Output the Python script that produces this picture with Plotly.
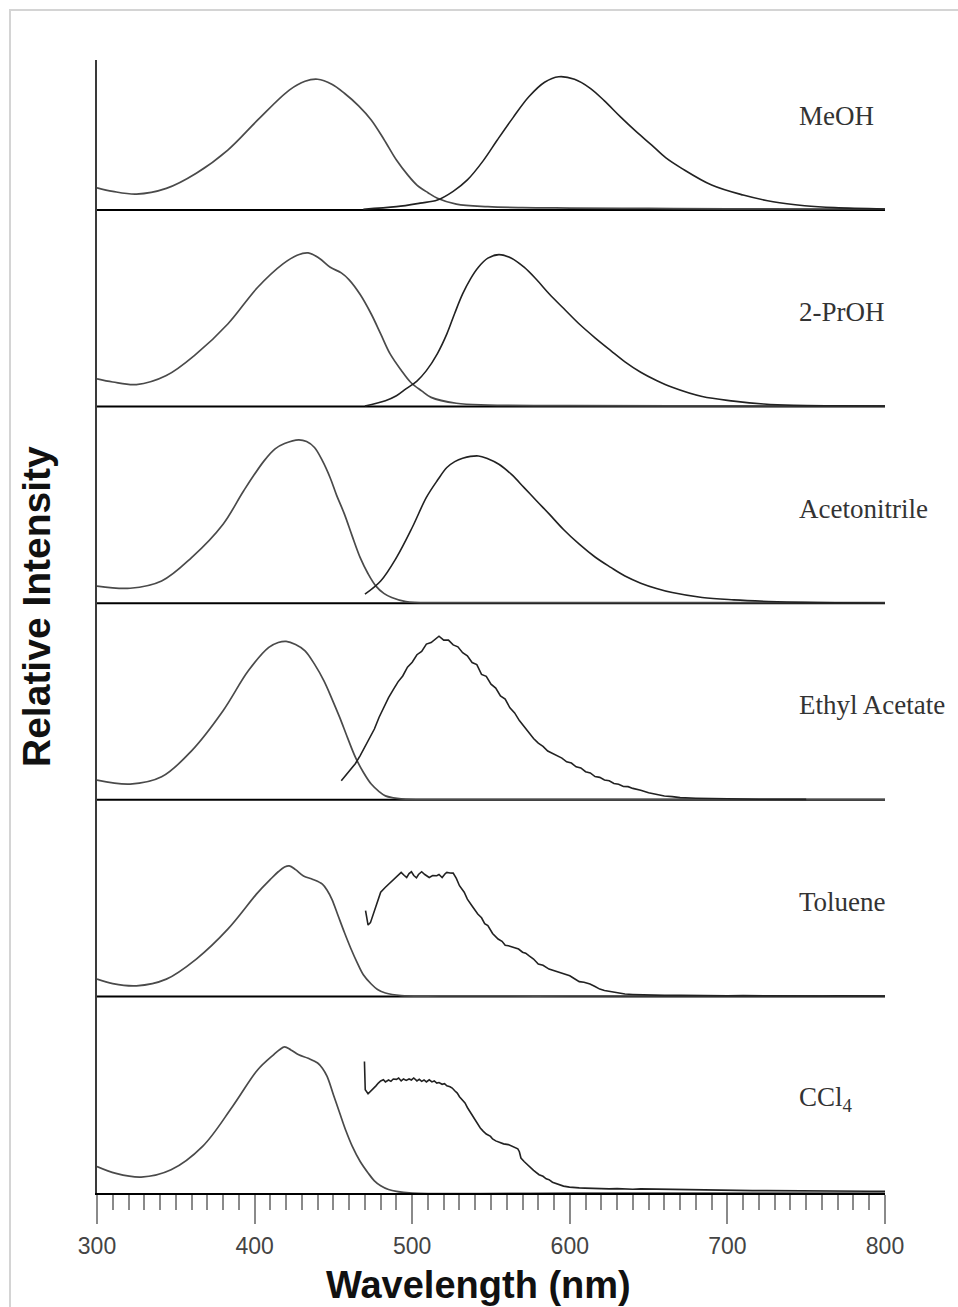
import plotly.graph_objects as go

# ---------------- data ----------------
SOLVENTS = ["MeOH", "2-PrOH", "Acetonitrile", "Ethyl Acetate", "Toluene", "CCl<sub>4</sub>"]
OFFSETS = [5, 4, 3, 2, 1, 0]          # vertical stacking offset of each panel

# MeOH
meoh_abs_x = [300, 310, 325, 344, 363, 383, 402, 422, 432, 440, 449, 457, 466, 474, 482, 490, 497, 503, 510, 516, 528, 548, 570, 600, 650, 700, 800]
meoh_abs_y = [0.113, 0.095, 0.081, 0.11, 0.187, 0.305, 0.458, 0.61, 0.655, 0.665, 0.64, 0.594, 0.53, 0.458, 0.36, 0.254, 0.18, 0.127, 0.088, 0.06, 0.03, 0.017, 0.012, 0.01, 0.008, 0.006, 0.005]
meoh_em_x = [469, 490, 505, 516, 526, 535, 545, 554, 564, 574, 584, 593, 603, 613, 622, 632, 642, 652, 661, 671, 690, 710, 729, 749, 768, 800]
meoh_em_y = [0.004, 0.017, 0.035, 0.051, 0.095, 0.153, 0.25, 0.356, 0.47, 0.576, 0.65, 0.678, 0.665, 0.619, 0.555, 0.475, 0.4, 0.33, 0.265, 0.212, 0.127, 0.076, 0.042, 0.022, 0.012, 0.005]

# 2-PrOH
proh_abs_x = [300, 310, 325, 344, 363, 383, 402, 418, 427, 434, 441, 448, 455, 460, 467, 474, 480, 486, 493, 499, 506, 512, 528, 548, 600, 700, 800]
proh_abs_y = [0.141, 0.125, 0.112, 0.158, 0.268, 0.42, 0.607, 0.726, 0.77, 0.782, 0.755, 0.709, 0.68, 0.645, 0.57, 0.471, 0.37, 0.268, 0.185, 0.124, 0.08, 0.047, 0.017, 0.008, 0.005, 0.004, 0.004]
proh_em_x = [470, 483, 490, 496, 503, 509, 516, 522, 527, 532, 537, 542, 548, 555, 563, 571, 579, 587, 596, 606, 616, 626, 635, 645, 655, 665, 684, 704, 723, 742, 770, 800]
proh_em_y = [0.003, 0.03, 0.055, 0.09, 0.13, 0.183, 0.27, 0.37, 0.475, 0.573, 0.65, 0.709, 0.755, 0.773, 0.755, 0.709, 0.645, 0.573, 0.5, 0.42, 0.35, 0.285, 0.228, 0.175, 0.133, 0.098, 0.051, 0.028, 0.013, 0.006, 0.004, 0.003]

# Acetonitrile
acn_abs_x = [300, 321, 341, 360, 380, 393, 406, 413, 419, 428, 433, 438, 443, 448, 452, 457, 462, 467, 472, 477, 482, 487, 496, 520, 600, 700, 800]
acn_abs_y = [0.087, 0.076, 0.113, 0.232, 0.402, 0.571, 0.724, 0.785, 0.812, 0.831, 0.822, 0.792, 0.725, 0.637, 0.55, 0.453, 0.34, 0.232, 0.15, 0.087, 0.05, 0.029, 0.008, 0.003, 0.003, 0.003, 0.003]
acn_em_x = [470, 480, 490, 500, 509, 516, 522, 527, 532, 542, 548, 555, 563, 571, 579, 587, 596, 606, 616, 626, 635, 645, 655, 665, 684, 704, 726, 749, 800]
acn_em_y = [0.046, 0.113, 0.232, 0.385, 0.538, 0.625, 0.69, 0.72, 0.737, 0.749, 0.735, 0.707, 0.655, 0.588, 0.52, 0.453, 0.375, 0.3, 0.235, 0.182, 0.138, 0.102, 0.075, 0.054, 0.029, 0.017, 0.009, 0.004, 0.0]

# Ethyl Acetate
ea_abs_x = [300, 321, 341, 360, 380, 396, 409, 415, 420, 426, 432, 438, 444, 449, 454, 459, 464, 469, 474, 479, 483, 488, 493, 520, 600, 700, 800]
ea_abs_y = [0.1, 0.08, 0.117, 0.249, 0.453, 0.656, 0.775, 0.8, 0.806, 0.79, 0.758, 0.69, 0.605, 0.515, 0.419, 0.315, 0.216, 0.14, 0.08, 0.042, 0.02, 0.01, 0.005, 0.002, 0.002, 0.002, 0.002]
ea_em_x = [455, 458, 461, 464, 467, 470, 473, 476, 479, 482, 485, 488, 491, 494, 497, 500, 503, 506, 509, 512,
           515, 517, 520, 523, 526, 529, 532, 535, 538, 541, 544, 547, 550, 553, 556, 559, 562, 565, 568, 571,
           574, 577, 580, 583, 586, 589, 592, 595, 598, 601, 604, 607, 610, 613, 616, 619, 622, 625, 628, 631,
           634, 637, 640, 645, 650, 655, 660, 665, 670, 680, 690, 700, 720, 750]
ea_em_y = [0.097, 0.125, 0.155, 0.185, 0.225, 0.27, 0.31, 0.36, 0.42, 0.47, 0.52, 0.56, 0.6, 0.63, 0.675, 0.7, 0.738, 0.755, 0.792, 0.8,
           0.822, 0.832, 0.812, 0.812, 0.788, 0.778, 0.748, 0.732, 0.698, 0.688, 0.638, 0.628, 0.588, 0.568, 0.528, 0.512, 0.468, 0.442, 0.403, 0.372,
           0.343, 0.312, 0.288, 0.272, 0.248, 0.237, 0.223, 0.212, 0.193, 0.187, 0.168, 0.162, 0.143, 0.137, 0.118, 0.114, 0.101, 0.097, 0.083, 0.079,
           0.068, 0.067, 0.058, 0.049, 0.036, 0.029, 0.019, 0.016, 0.011, 0.008, 0.006, 0.005, 0.003, 0.002]

# Toluene
tol_abs_x = [300, 310, 325, 344, 363, 383, 402, 410, 415, 419, 422, 426, 431, 437, 443, 446, 449, 453, 457, 461, 465, 469, 474, 478, 483, 493, 520, 600, 700, 800]
tol_abs_y = [0.088, 0.065, 0.054, 0.088, 0.19, 0.342, 0.528, 0.595, 0.634, 0.658, 0.664, 0.645, 0.613, 0.595, 0.571, 0.54, 0.495, 0.41, 0.325, 0.245, 0.173, 0.11, 0.063, 0.035, 0.017, 0.004, 0.002, 0.002, 0.002, 0.002]
tol_em_x = [470.4, 471, 472, 473.5, 475, 477, 480, 483, 486.5, 489, 491, 493, 495, 496.5, 498, 499.5, 501, 502.7, 504, 506,
            508, 510.8, 513, 515.6, 517, 519, 521, 522, 524, 526, 528, 530, 533, 535, 538, 541.6, 544, 546, 548, 551,
            554.5, 557, 559, 561, 564, 567.5, 570, 572, 574, 577, 580, 583, 586.8, 590, 593, 596, 600, 603, 606, 609,
            612.8, 616, 619, 622, 625.7, 630, 635, 640, 645, 650, 660, 670, 680, 690, 700, 710, 720, 730, 740, 750,
            760, 770, 780, 790, 800]
tol_em_y = [0.436, 0.4, 0.363, 0.375, 0.41, 0.46, 0.53, 0.555, 0.58, 0.6, 0.615, 0.631, 0.615, 0.605, 0.625, 0.634, 0.615, 0.603, 0.62, 0.634,
            0.62, 0.605, 0.615, 0.614, 0.62, 0.605, 0.625, 0.631, 0.628, 0.627, 0.6, 0.563, 0.53, 0.495, 0.46, 0.419, 0.4, 0.37, 0.36, 0.32,
            0.292, 0.28, 0.26, 0.258, 0.25, 0.241, 0.225, 0.22, 0.207, 0.19, 0.165, 0.158, 0.139, 0.13, 0.122, 0.115, 0.105, 0.09, 0.075, 0.072,
            0.063, 0.05, 0.037, 0.03, 0.024, 0.018, 0.012, 0.01, 0.008, 0.007, 0.005, 0.006, 0.004, 0.005, 0.003, 0.004, 0.003, 0.004, 0.002, 0.003,
            0.002, 0.003, 0.002, 0.003, 0.002]

# CCl4
ccl_abs_x = [300, 312, 328, 347, 367, 386, 402, 412, 416, 419, 423, 428, 434, 440, 443, 446, 450, 454, 458, 462, 467, 472, 476, 480, 485, 490, 500, 600, 700, 800]
ccl_abs_y = [0.135, 0.1, 0.081, 0.118, 0.237, 0.44, 0.627, 0.703, 0.73, 0.743, 0.728, 0.703, 0.685, 0.661, 0.635, 0.593, 0.5, 0.407, 0.315, 0.237, 0.16, 0.102, 0.062, 0.037, 0.018, 0.008, 0.0, 0.0, 0.0, 0.0]
ccl_em_x = [469.7, 470.2, 472, 474, 475.5, 477, 478.5, 480, 481.7, 483, 485, 486.5, 488, 490, 491.4, 493, 494.5, 496.2, 498, 499.5,
            501, 503, 504.5, 506, 507.5, 509, 510.8, 512.5, 514, 515.6, 517, 519, 520.5, 522, 524, 525.4, 527, 528.6, 530, 532,
            533.5, 535, 537, 538.4, 540, 541.5, 543.2, 545, 547, 549.7, 551, 553, 556.2, 558, 561, 563, 565.9, 567, 568, 569,
            571, 574, 577, 580.5, 583, 585, 586.8, 589, 591, 593.3, 596, 599.8, 603, 606, 609.5, 614, 619, 625, 630, 635.4,
            640, 645, 651.6, 660, 670, 684, 695, 705, 716, 725, 735, 749, 760, 770, 780, 790, 800]
ccl_em_y = [0.669, 0.525, 0.505, 0.52, 0.53, 0.545, 0.559, 0.57, 0.576, 0.565, 0.575, 0.568, 0.58, 0.578, 0.585, 0.57, 0.58, 0.573, 0.58, 0.575,
            0.585, 0.57, 0.578, 0.568, 0.575, 0.565, 0.576, 0.565, 0.57, 0.559, 0.562, 0.553, 0.556, 0.545, 0.54, 0.534, 0.52, 0.508, 0.49, 0.47,
            0.458, 0.435, 0.41, 0.39, 0.37, 0.35, 0.331, 0.315, 0.3, 0.288, 0.275, 0.265, 0.254, 0.25, 0.246, 0.24, 0.229, 0.225, 0.21, 0.178,
            0.16, 0.136, 0.115, 0.093, 0.085, 0.072, 0.068, 0.055, 0.05, 0.042, 0.035, 0.03, 0.027, 0.026, 0.025, 0.023, 0.022, 0.021, 0.022, 0.02,
            0.019, 0.021, 0.02, 0.018, 0.016, 0.014, 0.013, 0.014, 0.012, 0.012, 0.011, 0.01, 0.011, 0.009, 0.01, 0.009, 0.009]

ABS_X = [meoh_abs_x, proh_abs_x, acn_abs_x, ea_abs_x, tol_abs_x, ccl_abs_x]
ABS_Y = [meoh_abs_y, proh_abs_y, acn_abs_y, ea_abs_y, tol_abs_y, ccl_abs_y]
EM_X = [meoh_em_x, proh_em_x, acn_em_x, ea_em_x, tol_em_x, ccl_em_x]
EM_Y = [meoh_em_y, proh_em_y, acn_em_y, ea_em_y, tol_em_y, ccl_em_y]
EM_SMOOTH = [True, True, True, False, False, False]

X_TICKS = [300, 400, 500, 600, 700, 800]
X_TITLE = "Wavelength (nm)"
Y_TITLE = "Relative Intensity"

# ---------------- figure ----------------
W, H = 958, 1307
ML, MR, MT, MB = 97, 73, 60, 114
PW, PH = W - ML - MR, H - MT - MB

fig = go.Figure()
for name, off, ax, ay, ex, ey, sm in zip(SOLVENTS, OFFSETS, ABS_X, ABS_Y, EM_X, EM_Y, EM_SMOOTH):
    fig.add_trace(go.Scatter(x=ax, y=[v + off for v in ay], mode="lines",
                             line=dict(color="#4a4a4a", width=1.7, shape="spline", smoothing=1.0),
                             showlegend=False, name=name + " abs"))
    fig.add_trace(go.Scatter(x=ex, y=[v + off for v in ey], mode="lines",
                             line=dict(color="#222222", width=1.6, shape="spline" if sm else "linear",
                                       smoothing=1.0),
                             showlegend=False, name=name + " em"))
    if off > 0:
        fig.add_shape(type="line", xref="x", yref="y", x0=X_TICKS[0], x1=X_TICKS[-1], y0=off, y1=off,
                      line=dict(color="black", width=2), layer="below")
    fig.add_annotation(x=744, y=off + 0.48, xref="x", yref="y", text=name, showarrow=False,
                       xanchor="left", yanchor="middle",
                       font=dict(family="Liberation Serif", size=27, color="#333333"))


def px_x(p):
    return (p - ML) / PW


def px_y(p):
    return (H - MB - p) / PH


# outer light frame
fig.add_shape(type="rect", xref="paper", yref="paper", x0=px_x(10), x1=px_x(990), y0=px_y(1340), y1=px_y(10),
              line=dict(color="#d4d4d4", width=2), fillcolor="rgba(0,0,0,0)", layer="below")

fig.add_annotation(x=px_x(478), y=px_y(1285), xref="paper", yref="paper", text=X_TITLE, showarrow=False,
                   xanchor="center", yanchor="middle",
                   font=dict(family="Liberation Sans", size=38, color="#111111", weight="bold"))
fig.add_annotation(x=px_x(36), y=px_y(607), xref="paper", yref="paper", text=Y_TITLE, showarrow=False,
                   textangle=-90, xanchor="center", yanchor="middle",
                   font=dict(family="Liberation Sans", size=39, color="#111111", weight="bold"))

fig.update_xaxes(range=[300, 800], tickvals=X_TICKS, ticks="outside", ticklen=29, tickwidth=2,
                 tickcolor="#8a8a8a", showline=True, linecolor="black", linewidth=2, showgrid=False,
                 zeroline=False, ticklabelstandoff=2,
                 tickfont=dict(family="Liberation Sans", size=23, color="#444444"),
                 minor=dict(dtick=10, tick0=300, ticks="outside", ticklen=15, tickwidth=2, tickcolor="#8a8a8a",
                            showgrid=False))
fig.update_yaxes(range=[0, 5.763], showticklabels=False, ticks="", showline=True, linecolor="#3a3a3a",
                 linewidth=2, showgrid=False, zeroline=False)

fig.update_layout(width=W, height=H, margin=dict(l=ML, r=MR, t=MT, b=MB),
                  paper_bgcolor="white", plot_bgcolor="white", showlegend=False)

fig.write_html("out.html")
